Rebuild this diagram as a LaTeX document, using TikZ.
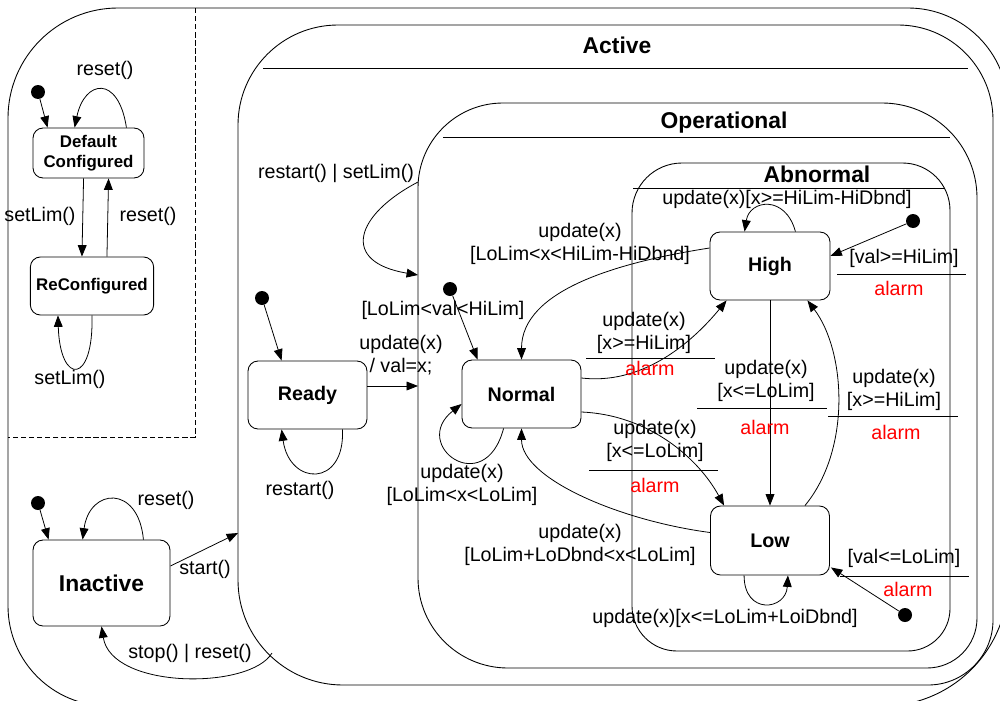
\documentclass[tikz,border=0pt]{standalone}
\usepackage{fontspec}
\setmainfont{Liberation Sans}
\usepackage{tikz}
\usetikzlibrary{arrows.meta}
\usetikzlibrary{calc}

\tikzset{
  stbox/.style={draw, rounded corners=0.2cm, align=center, line width=0.5pt,
    font=\bfseries\fontsize{11.2}{13}\selectfont},
  initdot/.style={circle, fill=black, inner sep=0pt, minimum size=0.28cm},
  trans/.style={-{Triangle[length=6.5pt,width=5pt]}, line width=0.45pt},
  lbl/.style={align=center, inner sep=0pt, font=\fontsize{11.2}{13}\selectfont},
  act/.style={lbl, text=red},
  frame/.style={line width=0.5pt},
  title/.style={inner sep=0pt, font=\bfseries\fontsize{13}{15}\selectfont},
}

\begin{document}
\begin{tikzpicture}[x=0.02cm, y=-0.02cm]
    \useasboundingbox (0,0) rectangle (1000,700);
    \clip (0,0) rectangle (1000,700);

    % Draw outer frame and config region
    \draw[frame] (8,400) [rounded corners=2.2cm] -- (8,8) -- (500,8)
        [rounded corners=2cm] -- (1008,8) -- (1008,400)
        [rounded corners=2.5cm] -- (1008,706) -- (500,706)
        [rounded corners=2cm] -- (8,706) -- cycle;
    \draw[frame, dash pattern=on 3pt off 1.6pt] (195,8) -- (195,437) -- (8,437);

    % Composite states
    \draw[frame] (238,400) [rounded corners=2cm] -- (238,25) -- (600,25)
        [rounded corners=1.9cm] -- (993,25) -- (993,400)
        [rounded corners=1.3cm] -- (993,685) -- (600,685)
        [rounded corners=2.1cm] -- (238,685) -- cycle;
    \draw[frame] (263,68) -- (968,68);
    \node[title] (tact) at (617,45) {Active};

    \draw[frame] (418,400) [rounded corners=1.7cm] -- (418,103) -- (700,103)
        [rounded corners=1.9cm] -- (977,103) -- (977,400)
        [rounded corners=1cm] -- (977,668) -- (700,668)
        [rounded corners=1.8cm] -- (418,668) -- cycle;
    \draw[frame] (443,137) -- (950,137);
    \node[title] (top) at (724,123) {Operational};

    \draw[frame] (632,400) [rounded corners=1cm] -- (632,163) -- (800,163)
        [rounded corners=0.95cm] -- (950,163) -- (950,400)
        [rounded corners=0.85cm] -- (950,651) -- (800,651)
        [rounded corners=0.9cm] -- (632,651) -- cycle;
    \draw[frame] (633,188) -- (945,188);
    \node[title] (tab) at (817,174) {Abnormal};

    \coordinate (actL) at (238,533);
    \coordinate (actBL) at (272,653);
    \coordinate (opIn) at (418,386);
    \coordinate (opOut) at (418,182);
    \coordinate (opBack) at (418,275);

    % States
    \node[stbox, font=\bfseries\fontsize{9.6}{11.3}\selectfont,
        minimum width=2.22cm, minimum height=1cm] (dc) at (88.5,153) {Default\\Configured};
    \node[stbox, font=\bfseries\fontsize{9.6}{11.3}\selectfont,
        minimum width=2.4cm, minimum height=1.16cm] (rc) at (92,286) {ReConfigured};
    \node[stbox, font=\bfseries\fontsize{13}{15}\selectfont,
        minimum width=2.74cm, minimum height=1.72cm] (inact) at (101.5,583) {Inactive};
    \node[stbox, minimum width=2.38cm, minimum height=1.36cm] (ready) at (307.5,395) {Ready};
    \node[stbox, minimum width=2.38cm, minimum height=1.36cm] (normal) at (521.5,394) {Normal};
    \node[stbox, minimum width=2.4cm, minimum height=1.36cm] (high) at (770,266) {High};
    \node[stbox, minimum width=2.38cm, minimum height=1.38cm] (low) at (770,540.5) {Low};

    \node[initdot] (dc0) at (38,92) {};
    \node[initdot] (in0) at (38,503) {};
    \node[initdot] (rd0) at (262,298) {};
    \node[initdot] (nm0) at (450,289) {};
    \node[initdot] (hi0) at (913,221) {};
    \node[initdot] (lo0) at (905,615) {};

    % Configuration
    \draw[trans] (dc0) -- ($(dc.north west)+(15,0)$);
    \draw[trans] ($(dc.north east)+(-18,0)$) .. controls +(-8,-53) and +(10,-48) .. ($(dc.north west)+(42,0)$);
    \node[lbl] (l1) at (105,70) {reset()};
    \draw[trans] ($(dc.south west)+(51,0)$) -- ($(rc.north west)+(52,0)$);
    \node[lbl] (l2) at (40,216) {setLim()};
    \draw[trans] ($(rc.north west)+(77,0)$) -- ($(dc.south west)+(76,0)$);
    \node[lbl] (l3) at (148,216) {reset()};
    \draw[trans] ($(rc.south west)+(62,0)$) .. controls +(2,70) and +(2,70) .. ($(rc.south west)+(28,0)$);
    \node[lbl] (l4) at (70,379) {setLim()};

    % Inactive
    \draw[trans] (in0) -- ($(inact.north west)+(16,0)$);
    \draw[trans] ($(inact.north east)+(-27,0)$) .. controls +(-5,-55) and +(7,-52) .. ($(inact.north west)+(50,0)$);
    \node[lbl] (l5) at (166,500) {reset()};
    \draw[trans] ($(inact.east)+(0,-17)$) -- (actL);
    \node[lbl] (l6) at (205,569) {start()};
    \draw[trans] (actBL) .. controls +(-22,37) and +(10,63) .. (inact.south);
    \node[lbl] (l7) at (190,653) {stop() | reset()};

    % Active
    \draw[trans] (rd0) -- ($(ready.north west)+(34,0)$);
    \draw[trans] ($(ready.south east)+(-25,0)$) .. controls +(3,58) and +(8,57) .. ($(ready.south west)+(34,0)$);
    \node[lbl] (l8) at (300,490) {restart()};
    \draw[trans] ($(ready.east)+(0,-9)$) -- (opIn);
    \node[lbl] (l9) at (401,355) {update(x)\\/ val=x;};
    \draw[trans] (opOut) .. controls +(-63,33) and +(-78,-13) .. (opBack);
    \node[lbl] (l10) at (336,173) {restart() | setLim()};

    % Operational
    \draw[trans] (nm0) -- ($(normal.north west)+(16,0)$);
    \node[lbl] (l11) at (443,310) {[LoLim<val<HiLim]};
    \draw[trans] ($(normal.south west)+(42,0)$) .. controls +(-19,72) and +(-52,41) .. ($(normal.west)+(0,10)$);
    \node[lbl] (l12) at (462,485) {update(x)\\{[LoLim<x<LoLim]}};
    \draw[trans] ($(high.west)+(0,-18)$) .. controls +(-90,14) and +(0,-70) .. (normal.north);
    \node[lbl] (l13) at (580,244) {update(x)\\{[LoLim<x<HiLim-HiDbnd]}};
    \draw[trans] ($(normal.east)+(0,-16)$) .. controls +(59,7) and +(-37,45) .. ($(high.south west)+(17,0)$);
    \node[lbl] (l14) at (644,333) {update(x)\\{[x>=HiLim]}};
    \draw (586,358) -- (715,358);
    \node[act] (a14) at (650,368) {alarm};
    \draw[trans] ($(normal.east)+(0,18)$) .. controls +(69,3) and +(-25,-46) .. ($(low.north west)+(14,0)$);
    \node[lbl] (l15) at (655,441) {update(x)\\{[x<=LoLim]}};
    \draw (589,470) -- (718,470);
    \node[act] (a15) at (655,485) {alarm};
    \draw[trans] ($(low.west)+(0,-8)$) .. controls +(-91,-12) and +(0,50) .. (normal.south);
    \node[lbl] (l16) at (580,545) {update(x)\\{[LoLim+LoDbnd<x<LoLim]}};

    % Abnormal
    \draw[trans] ($(high.north east)+(-35,0)$) .. controls +(-10,-37) and +(5,-32) .. ($(high.north west)+(35,0)$);
    \node[lbl] (l17) at (787,199) {update(x)[x>=HiLim-HiDbnd]};
    \draw[trans] (hi0) -- ($(high.east)+(0,-10)$);
    \node[lbl] (l18) at (904,258) {[val>=HiLim]};
    \draw (837,274) -- (966,274);
    \node[act] (a18) at (899,288) {alarm};
    \draw[trans] (high.south) -- (low.north);
    \node[lbl] (l19) at (766,381) {update(x)\\{[x<=LoLim]}};
    \draw (697,408) -- (827,408);
    \node[act] (a19) at (765,427) {alarm};
    \draw[trans] ($(low.north east)+(-25,0)$) .. controls +(47,-57) and +(38,50) .. ($(high.south east)+(-23,0)$);
    \node[lbl] (l20) at (894,390) {update(x)\\{[x>=HiLim]}};
    \draw (828,416) -- (958,416);
    \node[act] (a20) at (896,432) {alarm};
    \draw[trans] ($(low.south west)+(34,0)$) .. controls +(0,40) and +(-2,35) .. ($(low.south east)+(-42,0)$);
    \node[lbl] (l21) at (725,618) {update(x)[x<=LoLim+LoiDbnd]};
    \draw[trans] (lo0) -- ($(low.south east)+(1,-8)$);
    \node[lbl] (l22) at (904,558) {[val<=LoLim]};
    \draw (840,576) -- (969,576);
    \node[act] (a22) at (908,589) {alarm};

\end{tikzpicture}
\end{document}
